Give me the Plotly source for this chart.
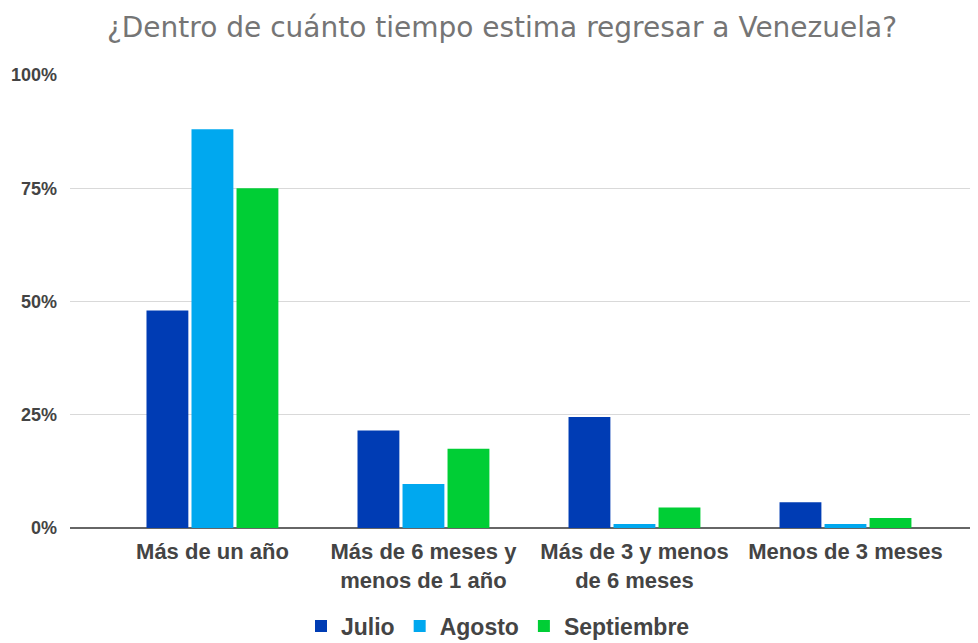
import plotly.graph_objects as go

categories = ["Más de un año", "Más de 6 meses y<br>menos de 1 año", "Más de 3 y menos<br>de 6 meses", "Menos de 3 meses"]
julio = [0.48, 0.215, 0.245, 0.057]
agosto = [0.88, 0.097, 0.009, 0.009]
septiembre = [0.75, 0.175, 0.045, 0.022]
tick_vals = [0, 0.25, 0.5, 0.75, 1.0]
tick_text = ["0%", "25%", "50%", "75%", "100%"]

colors = {"Julio": "#003CB4", "Agosto": "#00A8EF", "Septiembre": "#00CE35"}

fig = go.Figure()
for name, vals in [("Julio", julio), ("Agosto", agosto), ("Septiembre", septiembre)]:
    fig.add_trace(go.Bar(name="<b>%s</b>" % name, x=categories, y=vals, marker_color=colors[name],
                         marker_line_width=0))

W, H = 970, 635
fig.update_layout(
    width=W, height=H,
    margin=dict(l=62, r=0, t=67, b=115),
    paper_bgcolor="white", plot_bgcolor="white",
    barmode="group", bargap=0.36, bargroupgap=0.07,
    title=dict(text="¿Dentro de cuánto tiempo estima regresar a Venezuela?",
               x=494 / W, xref="container", xanchor="center", y=1 - 19 / H, yref="container", yanchor="middle",
               font=dict(family="DejaVu Sans", size=28, color="#757575")),
    showlegend=True,
    legend=dict(orientation="h", x=490 / W, xref="container", xanchor="center",
                y=17 / H, yref="container", yanchor="middle",
                font=dict(family="Liberation Sans", size=23, color="#444444"),
                itemwidth=30, traceorder="normal"),
    font=dict(family="Liberation Sans"),
)
fig.update_xaxes(range=[-0.675, 3.628], showgrid=False, showline=False, ticks="",
                 tickfont=dict(family="Liberation Sans", size=22, color="#444444"),
                 ticklabelstandoff=8,
                 ticktext=["<b>%s</b>" % c for c in categories], tickvals=categories)
fig.update_yaxes(range=[0, 1], tickvals=tick_vals, ticktext=["<b>%s</b>" % t for t in tick_text],
                 showgrid=True, gridcolor="#D9D9D9", gridwidth=1,
                 zeroline=True, zerolinecolor="#666666", zerolinewidth=1.5,
                 tickfont=dict(family="Liberation Sans", size=18, color="#444444"),
                 ticklabelstandoff=12, showline=False)

fig.write_html("out.html")
